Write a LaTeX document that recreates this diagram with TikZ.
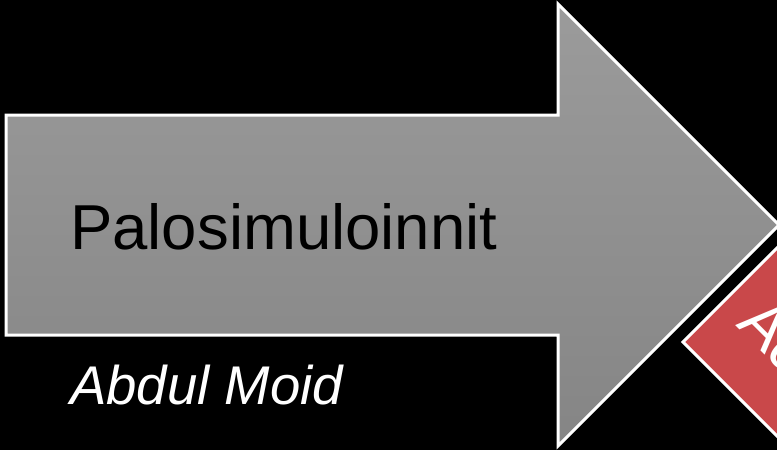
\documentclass[tikz,border=0pt]{standalone}
\usepackage{fontspec}
\setmainfont{Liberation Sans}
\definecolor{arrowtop}{HTML}{9B9B9B}
\definecolor{arrowbot}{HTML}{858585}
\definecolor{stepred}{HTML}{C9484A}
\begin{document}
\begin{tikzpicture}[x=1pt,y=-1pt,
  outline/.style={draw=white,line width=3pt,line join=miter},
  maintext/.style={anchor=base west,inner sep=0pt,text=black,font=\fontsize{63.5}{63.5}\selectfont},
  subtext/.style={anchor=base west,inner sep=0pt,text=white,font=\fontsize{54.5}{54.5}\selectfont\itshape},
  redtext/.style={anchor=base west,inner sep=0pt,text=white,rotate=-45,font=\fontsize{63}{63}\selectfont}]
  \fill[black] (0,0) rectangle (777,450);
  \useasboundingbox (0,0) rectangle (777,450);
  \clip (0,0) rectangle (777,450);
  % big arrow
  \shade[top color=arrowtop,bottom color=arrowbot,outline]
    (6,115) -- (558,115) -- (558,4) -- (779,225) -- (558,446) -- (558,335) -- (6,335) -- cycle;
  % red diamond in the corner
  \path[fill=stepred,outline] (683,342) -- (903,122) -- (1123,342) -- (903,562) -- cycle;
  \node[maintext] (title) at (70,249) {Palosimuloinnit};
  \node[subtext] (author) at (70,404) {Abdul Moid};
  \node[redtext] (next) at (735,325) {Ad};
\end{tikzpicture}
\end{document}
